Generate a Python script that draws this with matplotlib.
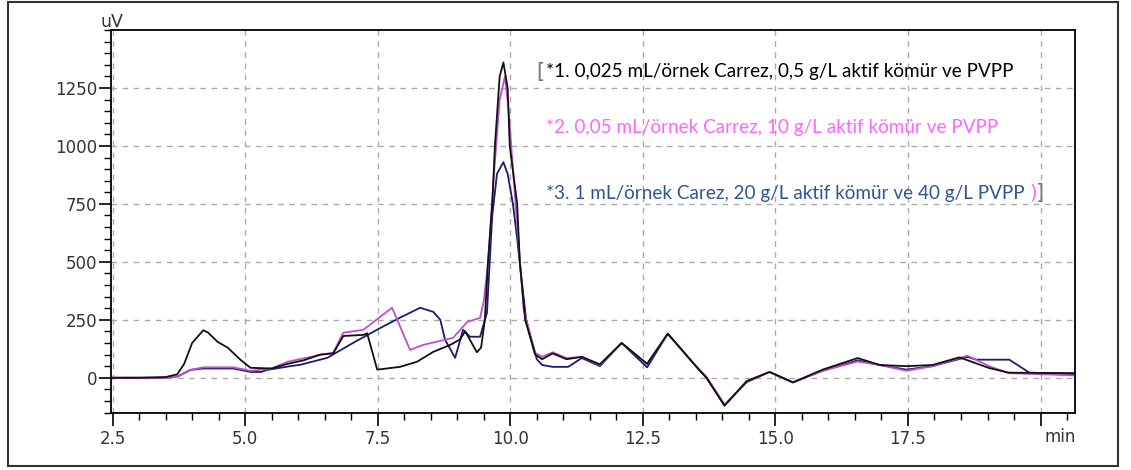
import matplotlib
matplotlib.use("Agg")
import matplotlib.pyplot as plt
from matplotlib.patches import Rectangle
from matplotlib.ticker import MultipleLocator

# sample 1 (black)
t1 = [2.5, 3.0, 3.5, 3.72, 3.85, 4.0, 4.21, 4.3, 4.48, 4.67, 4.91, 5.1, 5.5, 5.8, 6.1,
      6.42, 6.66, 6.85, 7.23, 7.3, 7.4, 7.49, 7.92, 8.24, 8.55, 8.87, 9.05, 9.15, 9.37,
      9.45, 9.52, 9.58, 9.66, 9.71, 9.8, 9.87, 9.95, 9.99, 10.13, 10.18, 10.28, 10.47,
      10.6, 10.8, 11.06, 11.35, 11.69, 12.1, 12.58, 12.97, 13.52, 13.7, 14.04, 14.46,
      14.89, 15.33, 15.89, 16.55, 16.97, 17.47, 17.96, 18.47, 19.03, 19.4, 20.65]
v1 = [0, 0, 3, 15, 60, 150, 205, 195, 155, 130, 78, 43, 40, 60, 75,
      100, 105, 180, 185, 192, 110, 35, 47, 69, 112, 142, 165, 200, 110,
      130, 250, 500, 750, 1000, 1300, 1360, 1250, 1000, 750, 500, 250, 100,
      80, 105, 80, 90, 58, 150, 60, 190, 45, 0, -120, -15,
      25, -20, 35, 85, 55, 50, 55, 88, 42, 22, 20]

# sample 2 (magenta)
t2 = [2.5, 3.5, 3.72, 3.97, 4.21, 4.78, 5.1, 5.5, 5.8, 6.42, 6.66, 6.85, 7.23, 7.77,
      7.85, 8.11, 8.36, 8.92, 9.19, 9.43, 9.5, 9.58, 9.7, 9.8, 9.9, 9.97, 10.05, 10.15,
      10.25, 10.45, 10.6, 10.8, 11.06, 11.35, 11.69, 12.1, 12.58, 12.97, 13.52, 13.7,
      14.04, 14.46, 14.89, 15.33, 15.89, 16.55, 16.97, 17.47, 17.96, 18.62, 19.03,
      19.4, 20.65]
v2 = [0, 0, 5, 34, 45, 45, 30, 40, 69, 99, 108, 194, 207, 302,
      260, 120, 142, 172, 241, 258, 330, 495, 900, 1200, 1300, 1150, 900, 600,
      300, 110, 90, 110, 85, 90, 55, 150, 60, 190, 45, 5,
      -115, -20, 25, -20, 30, 70, 55, 30, 50, 95, 50,
      20, 10]

# sample 3 (navy)
t3 = [2.5, 3.5, 3.72, 3.97, 4.21, 4.78, 5.1, 5.3, 5.42, 5.85, 6.04, 6.55, 7.04, 7.55,
      7.92, 8.3, 8.55, 8.68, 8.77, 8.96, 9.11, 9.24, 9.43, 9.56, 9.66, 9.75, 9.87, 9.95,
      10.05, 10.13, 10.2, 10.3, 10.5, 10.6, 10.8, 11.09, 11.35, 11.69, 12.1, 12.58,
      12.97, 13.52, 13.7, 14.04, 14.46, 14.89, 15.33, 15.89, 16.55, 16.97, 17.47,
      17.96, 18.62, 18.79, 19.41, 19.79, 20.65]
v3 = [0, 0, 5, 34, 40, 40, 25, 25, 34, 50, 56, 86, 151, 215,
      259, 302, 284, 250, 164, 86, 207, 177, 177, 280, 700, 880, 930, 880,
      750, 600, 450, 250, 80, 55, 47, 47, 85, 50, 150, 45,
      190, 45, 0, -120, -15, 25, -20, 30, 75, 55, 35,
      50, 90, 78, 78, 22, 15]

labels = ["*1. 0,025 mL/örnek Carrez, 0,5 g/L aktif kömür ve PVPP",
          "*2. 0,05 mL/örnek Carrez, 10 g/L aktif kömür ve PVPP",
          "*3. 1 mL/örnek Carez, 20 g/L aktif kömür ve 40 g/L PVPP"]
x_ticks = [2.5, 5.0, 7.5, 10.0, 12.5, 15.0, 17.5, 20.0]
x_ticklabels = ["2.5", "5.0", "7.5", "10.0", "12.5", "15.0", "17.5", ""]
y_ticks = [0, 250, 500, 750, 1000, 1250]

fig = plt.figure(figsize=(11.31, 4.70), dpi=100)
ax = fig.add_axes([111 / 1131, 1 - 413 / 470, 964 / 1131, 383 / 470])

ax.plot(t3, v3, color="#1c1c6e", lw=1.3)
ax.plot(t2, v2, color="#c050c8", lw=1.3)
ax.plot(t1, v1, color="#111111", lw=1.3)

ax.set_xlim(2.47, 20.65)
ax.set_ylim(-152, 1500)
ax.set_xticks(x_ticks)
ax.set_xticklabels(x_ticklabels)
ax.set_yticks(y_ticks)
ax.xaxis.set_minor_locator(MultipleLocator(0.5))
ax.yaxis.set_minor_locator(MultipleLocator(50))
ax.tick_params(which="major", direction="out", length=9, width=1.2, labelsize=12,
               labelcolor="#333333")
ax.tick_params(which="minor", direction="out", length=5, width=1.0)
ax.tick_params(axis="y", pad=1)
ax.tick_params(axis="x", pad=3)
for s in ax.spines.values():
    s.set_linewidth(1.3)
ax.grid(True, which="major", color="#aaaaaa", linestyle=(0, (4, 4)), lw=1)

fig.text(100 / 1131, 1 - 22 / 470, "uV", fontsize=12.5, color="#333333", va="center")
fig.text(1045 / 1131, 1 - 437 / 470, "min", fontsize=12, color="#333333", va="center")

colors = ["#000000", "#ff66ff", "#2f5597"]
ys = [72, 128, 193]
for lab, c, y in zip(labels, colors, ys):
    fig.text(546 / 1131, 1 - y / 470, lab, fontsize=13.6, family="Lato", color=c, va="center")
fig.text(536 / 1131, 1 - 72 / 470, "[", fontsize=15, color="#777777", va="center")
fig.text(1029 / 1131, 1 - 193 / 470, ")", fontsize=14, color="#ff66ff", va="center")
fig.text(1036 / 1131, 1 - 193 / 470, "]", fontsize=15, color="#777777", va="center")

fig.patches.append(Rectangle((8 / 1131, 1 - 466 / 470), 1110 / 1131, 464 / 470,
                             transform=fig.transFigure, fill=False, ec="#333333", lw=1.5))

fig.savefig("out.png", dpi=100)
